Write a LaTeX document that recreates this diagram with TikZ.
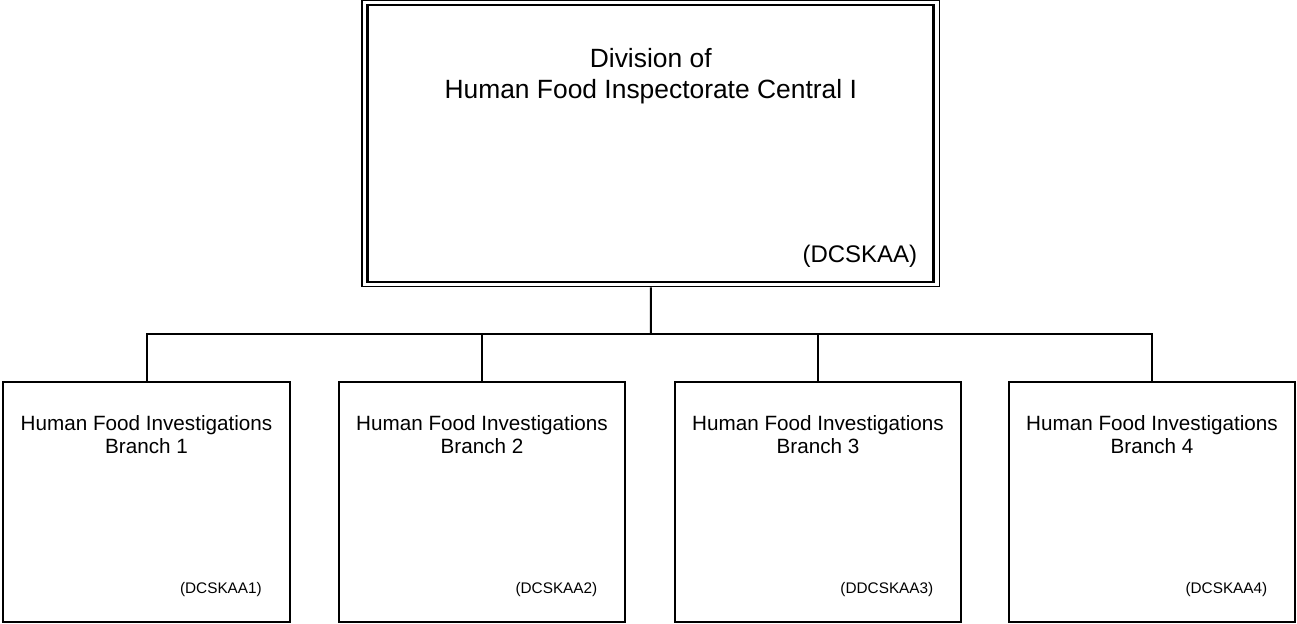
\documentclass[tikz,border=0pt]{standalone}
\usepackage{fontspec}
\setmainfont{Liberation Sans}
\usetikzlibrary{positioning,calc}

\begin{document}
\begin{tikzpicture}[x=0.75pt,y=-0.75pt,line width=1.5pt,
        branch/.style={draw,minimum width=215pt,minimum height=180pt,inner sep=0pt},
        title/.style={align=center,inner sep=0pt,font=\fontsize{15.5}{17.5}\selectfont},
        code/.style={inner sep=0pt,anchor=base east,font=\fontsize{11.5}{13}\selectfont}]
        \useasboundingbox (0,0) rectangle (1297,624);
        % division (double frame)
        \node[draw,line width=1.2pt,minimum width=433pt,minimum height=214.5pt,inner sep=0pt] (div) at (650.75,143.6) {};
        \node[draw,line width=2pt,minimum width=424.5pt,minimum height=207.75pt,inner sep=0pt] (divin) at (div.center) {};
        \node[align=center,inner sep=0pt,font=\fontsize{19.8}{23.5}\selectfont,below=35.5pt of div.north] (divtitle)
              {Division of\\Human Food Inspectorate Central I};
        \node[code,font=\fontsize{18}{20}\selectfont] (divcode) at ($(div.south east)+(-22,-25)$) {(DCSKAA)};
        % branches
        \node[branch] (b1) at (146.5,502) {};
        \node[branch] (b2) at (482,502) {};
        \node[branch] (b3) at (818,502) {};
        \node[branch] (b4) at (1152,502) {};
        \foreach \i/\c in {1/DCSKAA1,2/DCSKAA2,3/DDCSKAA3,4/DCSKAA4} {
            \node[title,below=25pt of b\i.north] (t\i) {Human Food Investigations\\Branch \i};
            \node[code] (c\i) at ($(b\i.south east)+(-28,-30)$) {(\c)};
        }
        % connectors
        \coordinate (bus) at (651,334);
        \draw (div.south) -- (bus);
        \draw (b1.north) |- (bus) -| (b4.north);
        \foreach \i in {2,3}
            \draw (b\i.north) -- (b\i.north |- bus);
\end{tikzpicture}
\end{document}
